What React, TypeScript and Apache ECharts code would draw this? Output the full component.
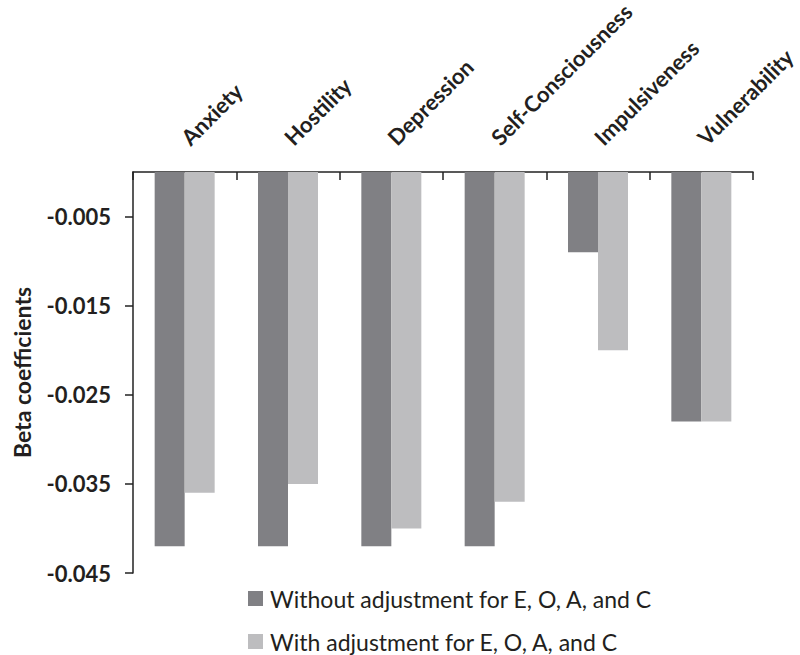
import React, { useEffect, useRef } from "react";
import * as echarts from "echarts";

const categories = ["Anxiety", "Hostility", "Depression", "Self-Consciousness", "Impulsiveness", "Vulnerability"];
const seriesNames = ["Without adjustment for E, O, A, and C", "With adjustment for E, O, A, and C"];
const withoutAdj = [-0.042, -0.042, -0.042, -0.042, -0.009, -0.028];
const withAdj = [-0.036, -0.035, -0.04, -0.037, -0.02, -0.028];
const yTicks = [-0.045, -0.035, -0.025, -0.015, -0.005];

const TEXT = "#231f20";
const FONT = "Lato";

const legendBase = {
  orient: "horizontal",
  left: 248,
  padding: 0,
  itemWidth: 15,
  itemHeight: 15,
  icon: "rect",
  textStyle: { fontFamily: FONT, fontSize: 23, color: TEXT, padding: [0, 0, 0, 2] },
};

export default function App() {
  const ref = useRef<HTMLDivElement>(null);
  useEffect(() => {
    if (!ref.current) return;
    const chart = echarts.init(ref.current, null, { renderer: "svg" });
    chart.setOption({
      animation: false,
      backgroundColor: "#ffffff",
      textStyle: { fontFamily: FONT, color: TEXT },
      grid: { left: 133, top: 172, right: 47, bottom: 82, containLabel: false, outerBoundsMode: "none" },
      legend: [
        { ...legendBase, top: 587, data: [seriesNames[0]] },
        { ...legendBase, top: 630, data: [seriesNames[1]] },
      ],
      xAxis: {
        type: "category",
        position: "top",
        data: categories,
        axisLine: { show: true, onZero: false, lineStyle: { color: "#222", width: 1.5 } },
        axisTick: { show: true, inside: true, length: 8, lineStyle: { color: "#222", width: 1.5 } },
        axisLabel: {
          rotate: -45,
          margin: 31,
          fontFamily: FONT,
          fontWeight: "bold",
          fontSize: 22,
          color: TEXT,
          interval: 0,
        },
        splitLine: { show: false },
      },
      yAxis: {
        type: "value",
        min: -0.045,
        max: 0,
        name: "Beta coefficients",
        nameLocation: "middle",
        nameGap: 100,
        nameTextStyle: { fontFamily: FONT, fontWeight: "bold", fontSize: 23, color: TEXT },
        axisLine: { show: true, lineStyle: { color: "#222", width: 1.5 } },
        axisTick: { show: true, length: 8, customValues: yTicks, lineStyle: { color: "#222", width: 1.5 } },
        axisLabel: {
          customValues: yTicks,
          formatter: (v: number) => v.toFixed(3),
          fontFamily: FONT,
          fontWeight: "bold",
          fontSize: 22,
          color: TEXT,
          margin: 22,
        },
        splitLine: { show: false },
      },
      series: [
        {
          name: seriesNames[0],
          type: "bar",
          data: withoutAdj,
          barWidth: 30,
          barGap: "0%",
          itemStyle: { color: "#808084" },
        },
        {
          name: seriesNames[1],
          type: "bar",
          data: withAdj,
          barWidth: 30,
          barGap: "0%",
          itemStyle: { color: "#bdbdbf" },
        },
      ],
    });
    return () => chart.dispose();
  }, []);
  return <div ref={ref} style={{ width: 800, height: 655, position: "absolute", left: 0, top: 0 }} />;
}
